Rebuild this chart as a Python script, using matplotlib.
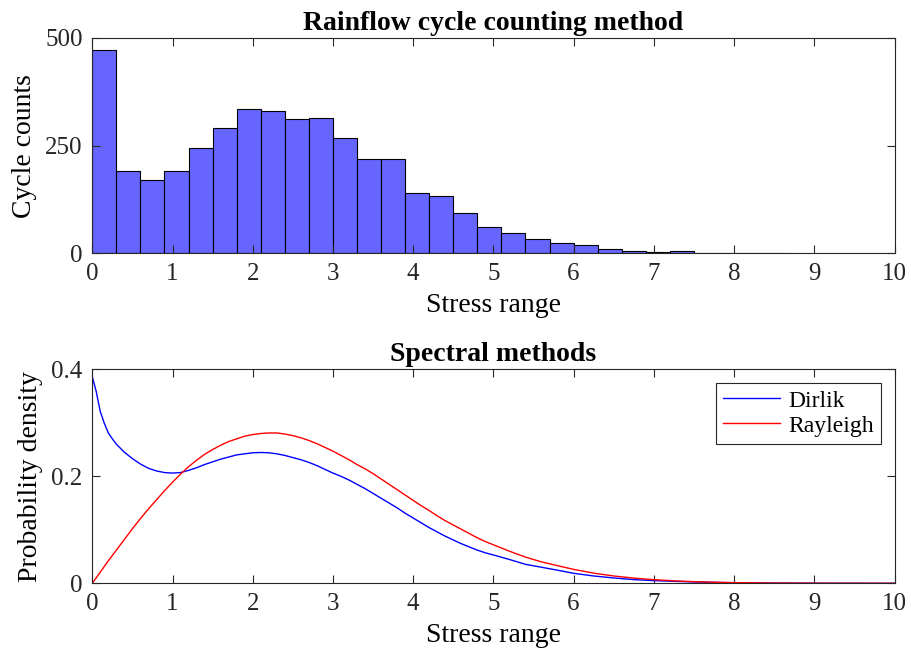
#!/usr/bin/env python3

import matplotlib
matplotlib.use('Agg')
import matplotlib.pyplot as plt
import numpy as np

# Rainflow histogram: bin edges every 0.3 starting at zero
bin_width = 0.3
cycle_counts = [473, 192, 171, 190, 245, 291, 336, 331, 312, 315,
                268, 218, 218, 141, 133, 93, 62, 48, 33, 25,
                20, 9, 5, 2, 5, 1, 0, 1, 1]

# Dirlik probability density
dirlik_x = [0.0, 0.025, 0.05, 0.075, 0.1, 0.15, 0.2, 0.25, 0.3, 0.4, 0.5,
            0.6, 0.7, 0.8, 0.9, 1.0, 1.1, 1.2, 1.3, 1.4, 1.5, 1.6, 1.7,
            1.8, 1.9, 2.0, 2.1, 2.2, 2.3, 2.4, 2.5, 2.6, 2.7, 2.8, 2.9,
            3.0, 3.1, 3.2, 3.3, 3.4, 3.5, 3.6, 3.7, 3.8, 3.9, 4.0, 4.1,
            4.2, 4.3, 4.4, 4.5, 4.6, 4.7, 4.8, 4.9, 5.0, 5.2, 5.4, 5.6,
            5.8, 6.0, 6.25, 6.5, 6.75, 7.0, 7.25, 7.5, 7.75, 8.0, 8.5,
            9.0, 9.5, 10.0]
dirlik_p = [0.386, 0.372, 0.358, 0.339, 0.321, 0.299, 0.281, 0.270, 0.260,
            0.245, 0.233, 0.223, 0.215, 0.210, 0.207, 0.206, 0.207, 0.211,
            0.216, 0.222, 0.227, 0.232, 0.236, 0.240, 0.242, 0.244, 0.2445,
            0.244, 0.242, 0.239, 0.235, 0.231, 0.226, 0.220, 0.213, 0.206,
            0.200, 0.193, 0.185, 0.177, 0.168, 0.159, 0.150, 0.141, 0.131,
            0.122, 0.113, 0.104, 0.096, 0.088, 0.081, 0.074, 0.068, 0.062,
            0.057, 0.053, 0.0445, 0.0355, 0.030, 0.0245, 0.0187, 0.0137,
            0.010, 0.0069, 0.005, 0.0037, 0.0025, 0.0017, 0.0011, 0.0005,
            0.0002, 0.0001, 0.0]

# Rayleigh probability density
rayleigh_x = [0.0, 0.1, 0.2, 0.3, 0.4, 0.5, 0.6, 0.7, 0.8, 0.9, 1.0, 1.1,
              1.2, 1.3, 1.4, 1.5, 1.6, 1.7, 1.8, 1.9, 2.0, 2.1, 2.2, 2.3,
              2.4, 2.5, 2.6, 2.7, 2.8, 2.9, 3.0, 3.1, 3.2, 3.3, 3.4, 3.5,
              3.6, 3.7, 3.8, 3.9, 4.0, 4.1, 4.2, 4.3, 4.4, 4.5, 4.6, 4.7,
              4.8, 4.9, 5.0, 5.2, 5.4, 5.6, 5.8, 6.0, 6.25, 6.5, 6.75, 7.0,
              7.25, 7.5, 7.75, 8.0, 8.5, 9.0, 9.5, 10.0]
rayleigh_p = [0.000, 0.021, 0.042, 0.062, 0.082, 0.102, 0.121, 0.139, 0.156,
              0.173, 0.189, 0.204, 0.218, 0.230, 0.241, 0.250, 0.258, 0.265,
              0.270, 0.275, 0.278, 0.280, 0.281, 0.281, 0.279, 0.276, 0.272,
              0.267, 0.261, 0.254, 0.247, 0.239, 0.231, 0.222, 0.214, 0.205,
              0.195, 0.185, 0.175, 0.165, 0.155, 0.145, 0.136, 0.126, 0.117,
              0.109, 0.101, 0.093, 0.085, 0.078, 0.072, 0.060, 0.049, 0.040,
              0.033, 0.026, 0.019, 0.0137, 0.0097, 0.0068, 0.0046, 0.0031,
              0.002, 0.0013, 0.0005, 0.0002, 0.0001, 0.0]

xticks = np.arange(0, 11, 1)

dark = (0.15, 0.15, 0.15)
params = {
    'font.family': 'serif',
    'font.serif': ['Liberation Serif', 'DejaVu Serif'],
    'font.size': 18,
    'axes.linewidth': 0.8,
    'axes.edgecolor': dark,
    'xtick.color': dark,
    'ytick.color': dark,
    'xtick.direction': 'in',
    'ytick.direction': 'in',
    'xtick.top': True,
    'ytick.right': True,
    'xtick.major.size': 5.5,
    'ytick.major.size': 5.5,
    'xtick.major.width': 0.8,
    'ytick.major.width': 0.8,
    'xtick.labelsize': 18,
    'ytick.labelsize': 18,
}
plt.rcParams.update(params)

fig = plt.figure(figsize=(9.11, 6.63), dpi=100)

# top panel: rainflow histogram
ax1 = fig.add_axes([0.1013, 0.6180, 0.8806, 0.3247])
edges = np.arange(len(cycle_counts)) * bin_width
ax1.bar(edges, cycle_counts, width=bin_width, align='edge',
        color='#6666ff', edgecolor='black', linewidth=0.8)
ax1.set_xlim(0, 10)
ax1.set_ylim(0, 500)
ax1.set_xticks(xticks)
ax1.set_yticks([0, 250, 500])
ax1.tick_params(pad=7)
ax1.set_xlabel('Stress range', fontsize=20, labelpad=6)
ax1.set_ylabel('Cycle counts', fontsize=20, labelpad=6)
ax1.set_title('Rainflow cycle counting method', fontsize=20,
              fontweight='bold', pad=6)

# bottom panel: spectral methods
ax2 = fig.add_axes([0.1013, 0.1202, 0.8806, 0.3228])
ax2.plot(dirlik_x, dirlik_p, color='blue', linewidth=1.0, label='Dirlik')
ax2.plot(rayleigh_x, rayleigh_p, color='red', linewidth=1.0, label='Rayleigh')
ax2.set_xlim(0, 10)
ax2.set_ylim(0, 0.4)
ax2.set_xticks(xticks)
ax2.set_yticks([0, 0.2, 0.4])
ax2.set_yticklabels(['0', '0.2', '0.4'])
ax2.tick_params(pad=7)
ax2.set_xlabel('Stress range', fontsize=20, labelpad=6)
ax2.set_ylabel('Probability density', fontsize=20, labelpad=6)
ax2.set_title('Spectral methods', fontsize=20, fontweight='bold', pad=6)
leg = ax2.legend(loc='upper right', fontsize=17, fancybox=False,
                 framealpha=1, edgecolor=dark, handlelength=2.4,
                 borderpad=0.3, labelspacing=0.15, handletextpad=0.35,
                 borderaxespad=0.58)
leg.get_frame().set_linewidth(0.8)

plt.savefig('out.png', dpi=100)
